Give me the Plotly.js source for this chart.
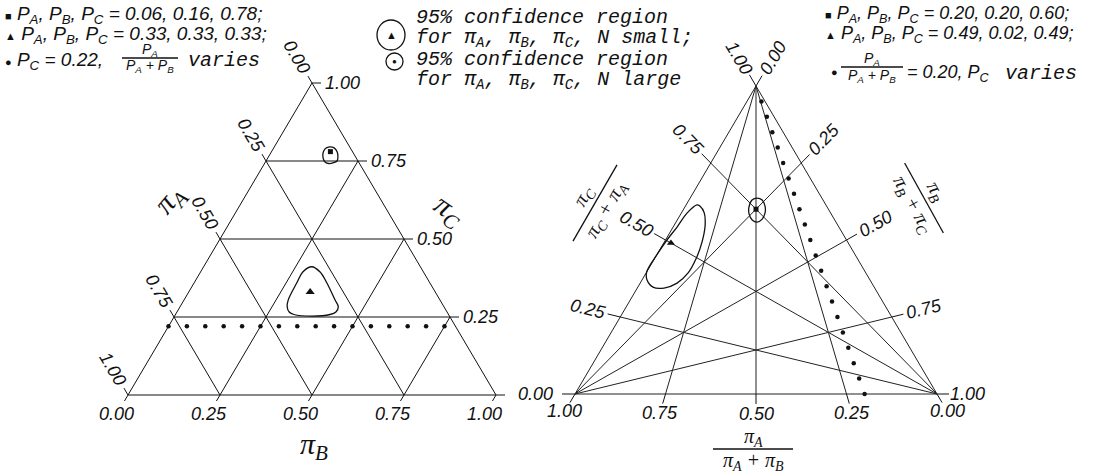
<!DOCTYPE html>
<html>
<head>
<meta charset="utf-8">
<script src="https://cdn.plot.ly/plotly-3.0.1.min.js"></script>
<style>
  html, body { margin: 0; padding: 0; background: #fff; }
  #chart { width: 1107px; height: 471px; }
</style>
</head>
<body>
<div id="chart"></div>
<script>
// ---------------- data ----------------
const gridValues = [0.25, 0.50, 0.75];
const tickValues = [0.00, 0.25, 0.50, 0.75, 1.00];
const tickLabels = ['0.00', '0.25', '0.50', '0.75', '1.00'];

// left diagram: compositions (pA, pB, pC)
const squareLeft = [0.06, 0.16, 0.78];
const triangleLeft = [0.33, 0.33, 0.33];
const dotsLeftA = [0.78, 0.73, 0.68, 0.63, 0.58, 0.53, 0.48, 0.43, 0.38, 0.33, 0.28, 0.23, 0.18, 0.13, 0.08, 0.03];
const dotsLeftB = [0.00, 0.05, 0.10, 0.15, 0.20, 0.25, 0.30, 0.35, 0.40, 0.45, 0.50, 0.55, 0.60, 0.65, 0.70, 0.75];
const dotsLeftC = [0.22, 0.22, 0.22, 0.22, 0.22, 0.22, 0.22, 0.22, 0.22, 0.22, 0.22, 0.22, 0.22, 0.22, 0.22, 0.22];

// 95% confidence regions, outlines given as (pB, pC)
const regionSmallNLeftB = [0.294, 0.325, 0.361, 0.410, 0.430, 0.432, 0.420, 0.373, 0.322, 0.305, 0.291, 0.283, 0.279, 0.278];
const regionSmallNLeftC = [0.411, 0.394, 0.359, 0.305, 0.283, 0.266, 0.258, 0.253, 0.258, 0.266, 0.283, 0.305, 0.359, 0.394];
const regionLargeNLeftB = [0.152, 0.164, 0.179, 0.189, 0.193, 0.185, 0.175, 0.162, 0.150, 0.142, 0.141, 0.144];
const regionLargeNLeftC = [0.795, 0.792, 0.779, 0.763, 0.750, 0.744, 0.742, 0.747, 0.760, 0.776, 0.789, 0.793];

// right diagram: compositions (pA, pB, pC)
const squareRight = [0.20, 0.20, 0.60];
const triangleRight = [0.49, 0.02, 0.49];
const dotsRightA = [0.01, 0.02, 0.03, 0.04, 0.05, 0.06, 0.07, 0.08, 0.09, 0.10, 0.11, 0.12, 0.13, 0.14, 0.15, 0.16, 0.17, 0.18, 0.19, 0.20];
const dotsRightB = [0.04, 0.08, 0.12, 0.16, 0.20, 0.24, 0.28, 0.32, 0.36, 0.40, 0.44, 0.48, 0.52, 0.56, 0.60, 0.64, 0.68, 0.72, 0.76, 0.80];
const dotsRightC = [0.95, 0.90, 0.85, 0.80, 0.75, 0.70, 0.65, 0.60, 0.55, 0.50, 0.45, 0.40, 0.35, 0.30, 0.25, 0.20, 0.15, 0.10, 0.05, 0.00];

const regionLargeNRightB = [0.185, 0.202, 0.220, 0.231, 0.233, 0.224, 0.207, 0.189, 0.177, 0.174];
const regionLargeNRightC = [0.636, 0.630, 0.610, 0.588, 0.568, 0.558, 0.565, 0.584, 0.607, 0.630];
const regionSmallNRightB = [0.040, 0.063, 0.085, 0.104, 0.115, 0.116, 0.102, 0.074, 0.042, 0.014, 0.000, 0.000, 0.004, 0.011, 0.016, 0.030];
const regionSmallNRightC = [0.610, 0.588, 0.549, 0.494, 0.438, 0.393, 0.360, 0.344, 0.347, 0.370, 0.396, 0.450, 0.500, 0.542, 0.588, 0.614];

// ---------------- layout helpers ----------------
const W = 1107, H = 471;
const frameLeft = { x0: 128, x1: 496, base: 395, apex: 83 };
const frameRight = { x0: 575, x1: 937, base: 394, apex: 86 };

const INK = '#111';
const numFont = { family: 'Liberation Sans, Arial, sans-serif', size: 18, color: INK, style: 'italic' };
const keyFontL = { family: 'Liberation Sans, Arial, sans-serif', size: 19, color: INK, style: 'italic' };
const keyFontR = { family: 'Liberation Sans, Arial, sans-serif', size: 18, color: INK, style: 'italic' };
const smallKey = { family: 'Liberation Sans, Arial, sans-serif', size: 14, color: INK, style: 'italic' };
const monoFont = { family: 'Liberation Mono, DejaVu Sans Mono, monospace', size: 20, color: INK, style: 'italic' };
const greekFont = { family: 'Liberation Serif, serif', size: 30, color: INK, style: 'italic' };
const fracFont = { family: 'Liberation Serif, serif', size: 20, color: INK, style: 'italic' };

// (pB, pC) -> unit triangle coordinates used by both subplots
function unit(pB, pC) { return [pB + pC / 2, pC]; }
function spans(f) { return { sx: f.x1 - f.x0, sy: f.base - f.apex }; }
function toPx(f, pB, pC) {
  const u = unit(pB, pC), s = spans(f);
  return [f.x0 + u[0] * s.sx, f.base - u[1] * s.sy];
}
function fromPx(f, p) {
  const s = spans(f);
  return [(p[0] - f.x0) / s.sx, (f.base - p[1]) / s.sy];
}
function ranges(f) {
  const s = spans(f);
  return { x: [-f.x0 / s.sx, (W - f.x0) / s.sx], y: [-(H - f.base) / s.sy, f.base / s.sy] };
}
const add = (p, d, k) => [p[0] + d[0] * k, p[1] + d[1] * k];
const dirOf = (from, to) => {
  const dx = to[0] - from[0], dy = to[1] - from[1], n = Math.hypot(dx, dy);
  return [dx / n, dy / n];
};
const deg = d => Math.atan2(d[1], d[0]) * 180 / Math.PI;

const traces = [], annotations = [], shapes = [];

function lineTrace(segments, axes, color, width) {
  const xs = [], ys = [];
  segments.forEach(([p, q]) => {
    const a = unit(p[0], p[1]), b = unit(q[0], q[1]);
    xs.push(a[0], b[0], null); ys.push(a[1], b[1], null);
  });
  traces.push({ type: 'scatter', mode: 'lines', x: xs, y: ys, xaxis: axes[0], yaxis: axes[1],
    line: { color, width }, hoverinfo: 'skip', showlegend: false });
}
function tickTrace(f, segs, axes) {
  const xs = [], ys = [];
  segs.forEach(([p, q]) => {
    const a = fromPx(f, p), b = fromPx(f, q);
    xs.push(a[0], b[0], null); ys.push(a[1], b[1], null);
  });
  traces.push({ type: 'scatter', mode: 'lines', x: xs, y: ys, xaxis: axes[0], yaxis: axes[1],
    line: { color: INK, width: 1 }, hoverinfo: 'skip', showlegend: false });
}
function markerTrace(pB, pC, axes, symbol, size) {
  const xs = [], ys = [];
  pB.forEach((b, i) => { const u = unit(b, pC[i]); xs.push(u[0]); ys.push(u[1]); });
  traces.push({ type: 'scatter', mode: 'markers', x: xs, y: ys, xaxis: axes[0], yaxis: axes[1],
    marker: { symbol, size, color: INK, line: { width: 0 } }, cliponaxis: false, hoverinfo: 'skip', showlegend: false });
}
function regionTrace(pB, pC, axes) {
  const xs = [], ys = [];
  const bs = pB.concat([pB[0]]), cs = pC.concat([pC[0]]);
  bs.forEach((b, i) => { const u = unit(b, cs[i]); xs.push(u[0]); ys.push(u[1]); });
  traces.push({ type: 'scatter', mode: 'lines', x: xs, y: ys, xaxis: axes[0], yaxis: axes[1],
    line: { color: INK, width: 1.3, shape: 'spline', smoothing: 1 }, hoverinfo: 'skip', showlegend: false });
}
function text(str, X, Y, opts) {
  return Object.assign({ xref: 'paper', yref: 'paper', x: X / W, y: 1 - Y / H, text: str, showarrow: false,
    xanchor: 'center', yanchor: 'middle', textangle: 0, font: numFont }, opts || {});
}
function bar(p, q, width) {
  shapes.push({ type: 'line', xref: 'paper', yref: 'paper', x0: p[0] / W, y0: 1 - p[1] / H,
    x1: q[0] / W, y1: 1 - q[1] / H, line: { color: INK, width: width || 1.3 } });
}
function fraction(num, den, cx, cy, angle, len, offUp, offDown, font) {
  const t = angle * Math.PI / 180;
  const up = [Math.sin(t), -Math.cos(t)], along = [Math.cos(t), Math.sin(t)];
  annotations.push(text(num, cx + up[0] * offUp, cy + up[1] * offUp, { textangle: angle, font }));
  annotations.push(text(den, cx - up[0] * offDown, cy - up[1] * offDown, { textangle: angle, font }));
  bar(add([cx, cy], along, -len / 2), add([cx, cy], along, len / 2));
}

// ---------------- left diagram: (πA, πB, πC) ----------------
const axL = ['x', 'y'];
const gridL = [];
gridValues.forEach(v => {
  gridL.push([[0, v], [1 - v, v]]);       // πC constant
  gridL.push([[0, 1 - v], [1 - v, 0]]);   // πA constant
  gridL.push([[v, 1 - v], [v, 0]]);       // πB constant
});
gridL.push([[0, 0], [1, 0]], [[1, 0], [0, 1]], [[0, 1], [0, 0]]);
lineTrace(gridL, axL, INK, 1);

const fl = frameLeft;
const AL = toPx(fl, 0, 0), BL = toPx(fl, 1, 0), CL = toPx(fl, 0, 1);
const dBottomL = dirOf(CL, AL), dLeftL = dirOf(BL, CL), dRightL = [1, 0];
const ticksL = [];
tickValues.forEach((t, i) => {
  const pb = toPx(fl, t, 0);                  // πB axis along the base
  ticksL.push([pb, add(pb, dBottomL, 7)]);
  annotations.push(text(tickLabels[i], ...add(pb, dBottomL, 22)));
  const pa = toPx(fl, 0, 1 - t);              // πA axis along the left side
  ticksL.push([pa, add(pa, dLeftL, 8)]);
  annotations.push(text(tickLabels[i], ...add(pa, dLeftL, 30), { textangle: deg([-dLeftL[0], -dLeftL[1]]) }));
  const pc = toPx(fl, 1 - t, t);              // πC axis along the right side
  ticksL.push([pc, add(pc, dRightL, 9)]);
  if (t > 0) annotations.push(text(tickLabels[i], pc[0] + 11, pc[1], { xanchor: 'left' }));
});
tickTrace(fl, ticksL, axL);

regionTrace(regionSmallNLeftB, regionSmallNLeftC, axL);
regionTrace(regionLargeNLeftB, regionLargeNLeftC, axL);
markerTrace(dotsLeftB, dotsLeftC, axL, 'circle', 4.5);
markerTrace([squareLeft[1]], [squareLeft[2]], axL, 'square', 5);
markerTrace([triangleLeft[1]], [triangleLeft[2]], axL, 'triangle-up', 8);

annotations.push(text('π<sub>B</sub>', 314, 446, { font: greekFont }));
annotations.push(text('π<sub>A</sub>', 170, 200, { font: greekFont, textangle: -50 }));
annotations.push(text('π<sub>C</sub>', 449, 211, { font: greekFont, textangle: 35 }));

// ---------------- right diagram: ratio coordinates ----------------
const axR = ['x2', 'y2'];
const fr = frameRight;
const gridR = [[[0, 0], [1, 0]], [[1, 0], [0, 1]], [[0, 1], [0, 0]]];
gridValues.forEach(v => {
  gridR.push([[0, 1], [1 - v, 0]]);   // πA/(πA+πB) = v, from vertex C
  gridR.push([[1, 0], [0, v]]);       // πC/(πC+πA) = v, from vertex B
  gridR.push([[0, 0], [v, 1 - v]]);   // πB/(πB+πC) = v, from vertex A
});
lineTrace(gridR, axR, '#222', 1);

const AR = toPx(fr, 0, 0), BR = toPx(fr, 1, 0), CR = toPx(fr, 0, 1);
const ticksR = [];
tickValues.forEach((t, i) => {
  const pb = toPx(fr, 1 - t, 0);          // bottom: πA/(πA+πB) = t
  const db = dirOf(CR, pb);
  ticksR.push([pb, add(pb, db, 10)]);
  annotations.push(text(tickLabels[i], ...add(pb, db, 20)));
  const pl = toPx(fr, 0, t);              // left: πC/(πC+πA) = t
  const dl = dirOf(BR, pl);
  ticksR.push([pl, add(pl, dl, 13)]);
  annotations.push(text(tickLabels[i], ...add(pl, dl, t === 0 ? 40 : 33), { textangle: deg([-dl[0], -dl[1]]) }));
  const pr = toPx(fr, t, 1 - t);          // right: πB/(πB+πC) = t
  const dr = dirOf(AR, pr);
  ticksR.push([pr, add(pr, dr, 12)]);
  annotations.push(text(tickLabels[i], ...add(pr, dr, t === 1 ? 30 : 33), { textangle: deg(dr) }));
});
tickTrace(fr, ticksR, axR);

regionTrace(regionSmallNRightB, regionSmallNRightC, axR);
regionTrace(regionLargeNRightB, regionLargeNRightC, axR);
markerTrace(dotsRightB, dotsRightC, axR, 'circle', 4.5);
markerTrace([squareRight[1]], [squareRight[2]], axR, 'square', 5);
markerTrace([triangleRight[1]], [triangleRight[2]], axR, 'triangle-up', 7);

fraction('π<sub>A</sub>', 'π<sub>A</sub> + π<sub>B</sub>', 753, 449, 0, 80, 12, 12, fracFont);
fraction('π<sub>C</sub>', 'π<sub>C</sub> + π<sub>A</sub>', 595, 203, -60, 88, 13, 13, fracFont);
fraction('π<sub>B</sub>', 'π<sub>B</sub> + π<sub>C</sub>', 924, 198, 61, 80, 13, 13, fracFont);

// ---------------- keys ----------------
const sym = s => '<span style="font-size:11px">' + s + '</span>';
annotations.push(text(sym('■') + ' P<sub>A</sub>, P<sub>B</sub>, P<sub>C</sub> = 0.06, 0.16, 0.78;', 3, 15, { xanchor: 'left', font: keyFontL }));
annotations.push(text(sym('▲') + ' P<sub>A</sub>, P<sub>B</sub>, P<sub>C</sub> = 0.33, 0.33, 0.33;', 3, 35, { xanchor: 'left', font: keyFontL }));
annotations.push(text(sym('●') + ' P<sub>C</sub> = 0.22,', 3, 61, { xanchor: 'left', font: keyFontL }));
fraction('P<sub>A</sub>', 'P<sub>A</sub> + P<sub>B</sub>', 150, 58, 0, 56, 8, 8, smallKey);
annotations.push(text('varies', 186, 61, { xanchor: 'left', font: monoFont }));

annotations.push(text(sym('■') + ' P<sub>A</sub>, P<sub>B</sub>, P<sub>C</sub> = 0.20, 0.20, 0.60;', 823, 15, { xanchor: 'left', font: keyFontR }));
annotations.push(text(sym('▲') + ' P<sub>A</sub>, P<sub>B</sub>, P<sub>C</sub> = 0.49, 0.02, 0.49;', 823, 35, { xanchor: 'left', font: keyFontR }));
annotations.push(text(sym('●'), 829, 72, { xanchor: 'left', font: keyFontR }));
fraction('P<sub>A</sub>', 'P<sub>A</sub> + P<sub>B</sub>', 872, 67, 0, 62, 8, 9, smallKey);
annotations.push(text('= 0.20, P<sub>C</sub>', 905, 74, { xanchor: 'left', font: keyFontR }));
annotations.push(text('varies', 1003, 74, { xanchor: 'left', font: monoFont }));

shapes.push({ type: 'circle', xref: 'paper', yref: 'paper', x0: 377 / W, x1: 405 / W, y0: 1 - 20 / H, y1: 1 - 50 / H, line: { color: INK, width: 1.3 } });
annotations.push(text(sym('▲'), 391, 35, { font: numFont }));
shapes.push({ type: 'circle', xref: 'paper', yref: 'paper', x0: 386 / W, x1: 403 / W, y0: 1 - 53 / H, y1: 1 - 70 / H, line: { color: INK, width: 1.3 } });
annotations.push(text('<span style="font-size:8px">●</span>', 394.5, 61.5, { font: numFont }));
annotations.push(text('95% confidence region', 414, 18, { xanchor: 'left', font: monoFont }));
annotations.push(text('for π<sub>A</sub>, π<sub>B</sub>, π<sub>C</sub>, N small;', 414, 39, { xanchor: 'left', font: monoFont }));
annotations.push(text('95% confidence region', 414, 60, { xanchor: 'left', font: monoFont }));
annotations.push(text('for π<sub>A</sub>, π<sub>B</sub>, π<sub>C</sub>, N large', 414, 81, { xanchor: 'left', font: monoFont }));

// ---------------- figure ----------------
const rL = ranges(frameLeft), rR = ranges(frameRight);
const layout = {
  width: W, height: H,
  margin: { l: 0, r: 0, t: 0, b: 0 },
  paper_bgcolor: '#ffffff', plot_bgcolor: 'rgba(0,0,0,0)',
  showlegend: false,
  xaxis: { domain: [0, 1], range: rL.x, visible: false, fixedrange: true },
  yaxis: { domain: [0, 1], range: rL.y, visible: false, fixedrange: true },
  xaxis2: { domain: [0, 1], range: rR.x, visible: false, anchor: 'y2', fixedrange: true },
  yaxis2: { domain: [0, 1], range: rR.y, visible: false, anchor: 'x2', fixedrange: true },
  annotations, shapes
};
Plotly.newPlot('chart', traces, layout, { displayModeBar: false });
</script>
</body>
</html>
